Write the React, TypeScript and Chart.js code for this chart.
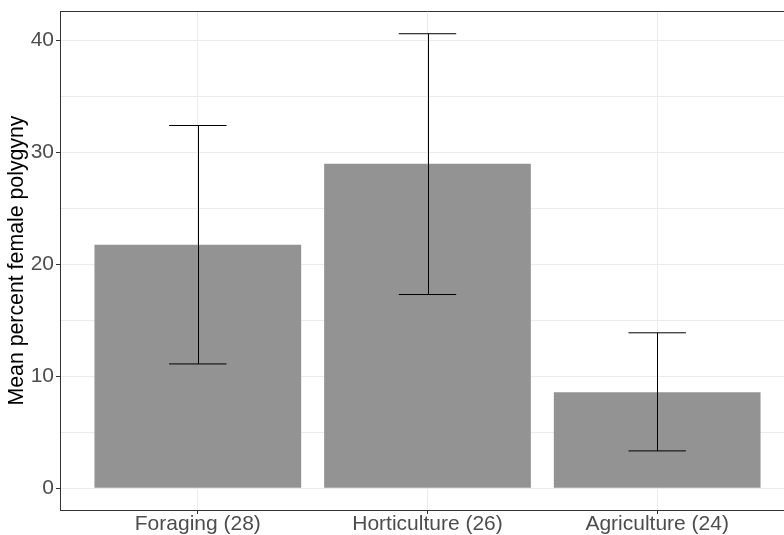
import React, { useEffect, useRef } from "react";
import { Chart, registerables } from "chart.js";

Chart.register(...registerables);

const categories: string[] = ["Foraging (28)", "Horticulture (26)", "Agriculture (24)"];
const meanValues: number[] = [21.74, 28.98, 8.58];
const lowerValues: number[] = [11.1, 17.3, 3.33];
const upperValues: number[] = [32.4, 40.6, 13.88];
const yTickValues: number[] = [0, 5, 10, 15, 20, 25, 30, 35, 40];

const FONT = "'Liberation Sans', Arial, Helvetica, sans-serif";

export default function App() {
  const canvasRef = useRef<HTMLCanvasElement | null>(null);

  useEffect(() => {
    document.body.style.margin = "0";
    const canvas = canvasRef.current;
    if (!canvas) return;

    const errorBarPlugin = {
      id: "errorBars",
      afterDatasetsDraw(chart: any) {
        const { ctx, chartArea, scales } = chart;
        const xs = scales.x;
        const ys = scales.y;
        ctx.save();
        ctx.strokeStyle = "#000000";
        ctx.lineWidth = 1;
        for (let i = 0; i < categories.length; i++) {
          const xc = Math.round(xs.getPixelForValue(i)) + 0.5;
          const xl = xs.getPixelForValue(i - 0.125);
          const xr = xs.getPixelForValue(i + 0.125);
          const yl = ys.getPixelForValue(lowerValues[i]);
          const yu = ys.getPixelForValue(upperValues[i]);
          ctx.beginPath();
          ctx.moveTo(xc, yu);
          ctx.lineTo(xc, yl);
          ctx.stroke();
          ctx.beginPath();
          ctx.moveTo(xl, yu);
          ctx.lineTo(xr, yu);
          ctx.moveTo(xl, yl);
          ctx.lineTo(xr, yl);
          ctx.stroke();
        }
        // top border of panel
        ctx.strokeStyle = "#333333";
        ctx.beginPath();
        ctx.moveTo(chartArea.left, Math.round(chartArea.top) + 0.5);
        ctx.lineTo(chartArea.right, Math.round(chartArea.top) + 0.5);
        ctx.stroke();
        ctx.restore();
      },
    };

    const chart = new Chart(canvas, {
      type: "bar",
      data: {
        datasets: [
          {
            data: meanValues.map((v, i) => ({ x: i, y: v })),
            backgroundColor: "#939393",
            borderWidth: 0,
            categoryPercentage: 0.9,
            barPercentage: 1,
          } as any,
        ],
      },
      options: {
        animation: false,
        responsive: false,
        maintainAspectRatio: false,
        layout: { padding: { top: 11, right: 5, left: 0, bottom: 0 } },
        plugins: {
          legend: { display: false },
          tooltip: { enabled: false },
        },
        scales: {
          x: {
            type: "linear",
            min: -0.6,
            max: 2.6,
            offset: false,
            afterBuildTicks(scale: any) {
              scale.ticks = categories.map((_, i) => ({ value: i }));
            },
            afterFit(scale: any) {
              scale.height = 25;
              scale.paddingLeft = 0;
              scale.paddingRight = 0;
            },
            grid: {
              offset: false,
              color: "#ebebeb",
              lineWidth: 1,
              tickColor: "#333333",
              tickLength: 4,
            },
            border: { color: "#333333", width: 1 },
            ticks: {
              autoSkip: false,
              maxRotation: 0,
              padding: 0,
              color: "#4d4d4d",
              font: { family: FONT, size: 21, lineHeight: 1.0 },
              callback: (v: any) => categories[Math.round(Number(v))] ?? "",
            },
          } as any,
          y: {
            type: "linear",
            min: -1.95,
            max: 42.63,
            afterBuildTicks(scale: any) {
              scale.ticks = yTickValues.map((v) => ({ value: v }));
            },
            afterFit(scale: any) {
              scale.width = 60;
              scale.paddingTop = 0;
              scale.paddingBottom = 0;
            },
            grid: {
              color: "#ebebeb",
              lineWidth: 1,
              tickLength: 4,
              tickColor: (ctx: any) =>
                ctx.tick && ctx.tick.value % 10 === 0 ? "#333333" : "rgba(0,0,0,0)",
            },
            border: { color: "#333333", width: 1 },
            ticks: {
              padding: 2,
              color: "#4d4d4d",
              font: { family: FONT, size: 21 },
              callback: (v: any) => (Number(v) % 10 === 0 ? String(v) : ""),
            },
            title: {
              display: true,
              text: "Mean percent female polygyny",
              color: "#000000",
              font: { family: FONT, size: 21.3 },
              padding: { top: 4, bottom: 0 },
            },
          } as any,
        },
      },
      plugins: [errorBarPlugin],
    });

    return () => {
      chart.destroy();
    };
  }, []);

  return (
    <div style={{ width: 784, height: 535, overflow: "hidden", position: "relative" }}>
      <canvas
        ref={canvasRef}
        width={800}
        height={535}
        style={{ width: 800, height: 535, display: "block" }}
      />
    </div>
  );
}
